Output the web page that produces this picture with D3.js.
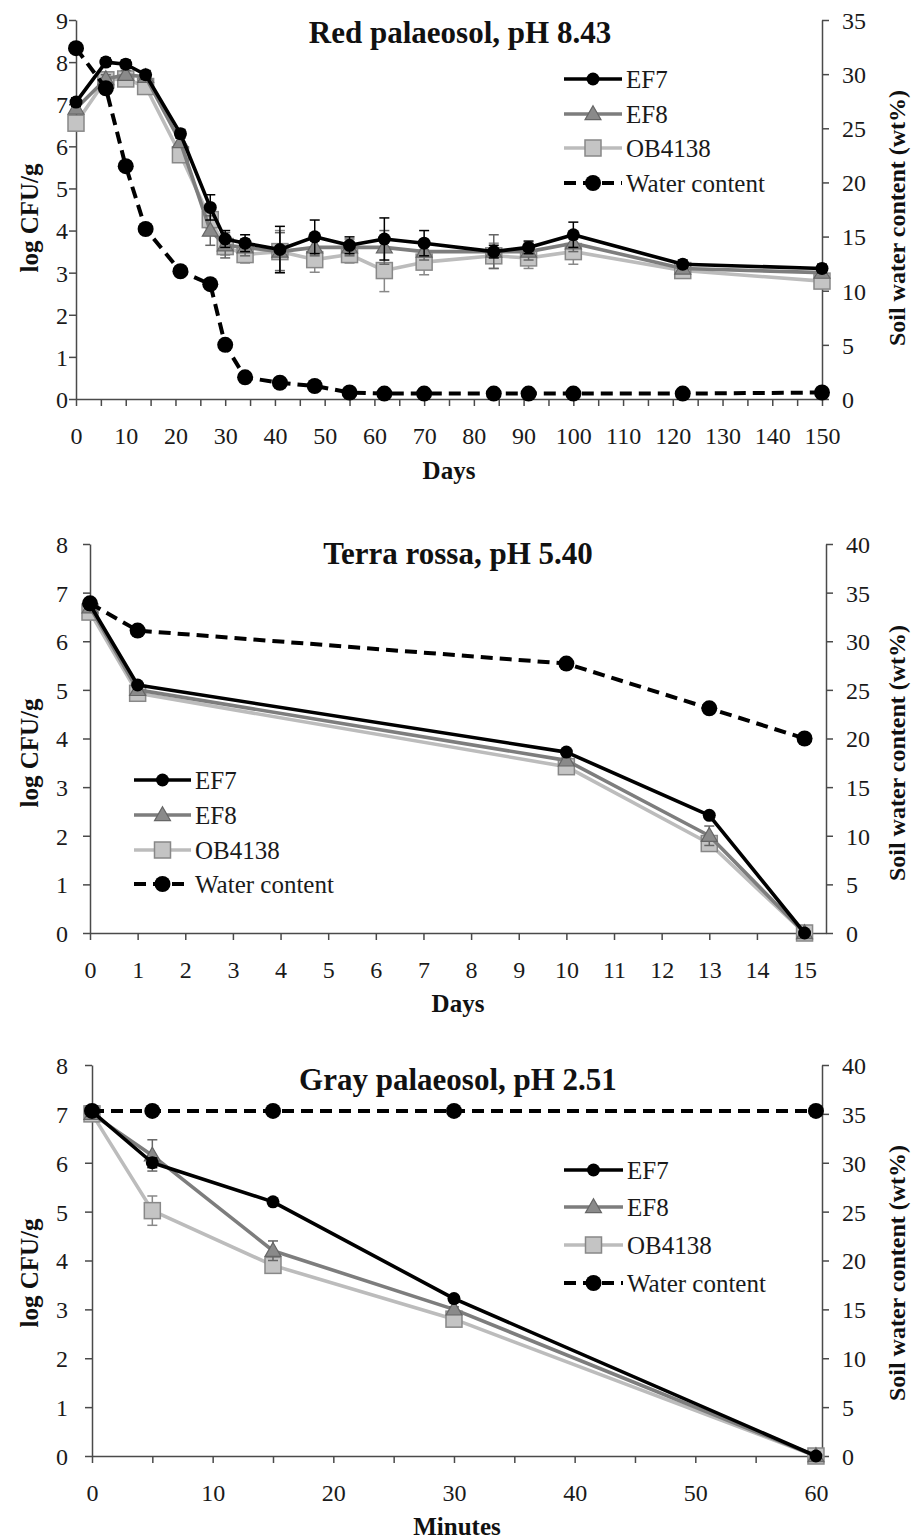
<!DOCTYPE html>
<html>
<head>
<meta charset="utf-8">
<script src="https://cdn.jsdelivr.net/npm/d3@7"></script>
<style>
  body { margin: 0; background: #fff; }
  svg text { font-family: "Liberation Serif", "Times New Roman", Times, "DejaVu Serif", serif; }
</style>
</head>
<body>
<svg id="chart" width="912" height="1540"></svg>
<script>
// ---- data: Red palaeosol, pH 8.43 (days) ----
const redDays = [0, 6, 10, 14, 21, 27, 30, 34, 41, 48, 55, 62, 70, 84, 91, 100, 122, 150];
const redEF7 = [7.05, 8.0, 7.95, 7.7, 6.3, 4.55, 3.8, 3.7, 3.55, 3.85, 3.65, 3.8, 3.7, 3.5, 3.6, 3.9, 3.2, 3.1];
const redEF8 = [6.9, 7.6, 7.7, 7.65, 6.1, 4.0, 3.65, 3.6, 3.5, 3.6, 3.6, 3.6, 3.5, 3.5, 3.5, 3.7, 3.1, 3.0];
const redOB4138 = [6.55, 7.58, 7.6, 7.42, 5.8, 4.26, 3.62, 3.43, 3.5, 3.31, 3.43, 3.05, 3.25, 3.4, 3.35, 3.5, 3.05, 2.8];
const redEF7Err = [0.1, 0.1, 0.1, 0.1, 0.1, 0.3, 0.2, 0.2, 0.55, 0.4, 0.2, 0.5, 0.3, 0.15, 0.15, 0.3, 0.1, 0.1];
const redEF8Err = [0.1, 0.1, 0.1, 0.1, 0.1, 0.35, 0.3, 0.2, 0.45, 0.2, 0.2, 0.4, 0.2, 0.4, 0.2, 0.2, 0.1, 0.1];
const redOBErr = [0.1, 0.1, 0.1, 0.1, 0.1, 0.2, 0.2, 0.2, 0.5, 0.3, 0.2, 0.5, 0.3, 0.3, 0.25, 0.3, 0.1, 0.1];
const redWater = [32.4, 28.7, 21.5, 15.7, 11.8, 10.6, 5.0, 2.0, 1.5, 1.2, 0.6, 0.5, 0.5, 0.5, 0.5, 0.5, 0.5, 0.6];

// ---- data: Terra rossa, pH 5.40 (days) ----
const terraDays = [0, 1, 10, 13, 15];
const terraEF7 = [6.75, 5.1, 3.72, 2.42, 0];
const terraEF8 = [6.7, 5.0, 3.55, 2.0, 0];
const terraOB4138 = [6.6, 4.93, 3.42, 1.84, 0];
const terraEF7Err = [0.05, 0.05, 0.05, 0.05, 0];
const terraEF8Err = [0.05, 0.05, 0.05, 0.2, 0];
const terraOBErr = [0.05, 0.05, 0.05, 0.05, 0];
const terraWater = [33.9, 31.1, 27.7, 23.1, 20.0];

// ---- data: Gray palaeosol, pH 2.51 (minutes) ----
const grayMinutes = [0, 5, 15, 30, 60];
const grayEF7 = [7.05, 6.0, 5.2, 3.22, 0];
const grayEF8 = [7.0, 6.15, 4.2, 3.0, 0];
const grayOB4138 = [7.0, 5.02, 3.9, 2.8, 0];
const grayEF7Err = [0.05, 0.1, 0.05, 0.05, 0];
const grayEF8Err = [0.05, 0.32, 0.2, 0.05, 0];
const grayOBErr = [0.05, 0.3, 0.05, 0.05, 0];
const grayWater = [35.3, 35.3, 35.3, 35.3, 35.3];

const seriesNames = ['EF7', 'EF8', 'OB4138', 'Water content'];

const FONT = '"Liberation Serif", "Times New Roman", Times, serif';
const svg = d3.select('#chart');
svg.append('rect').attr('width', 912).attr('height', 1540).attr('fill', '#fff');

const STYLE = {
  EF7: { stroke: '#000', width: 3.6, fill: '#000', mStroke: '#000', shape: 'circle' },
  EF8: { stroke: '#7d7d7d', width: 3.6, fill: '#8a8a8a', mStroke: '#666', shape: 'triangle' },
  OB4138: { stroke: '#bcbcbc', width: 3.6, fill: '#c4c4c4', mStroke: '#888', shape: 'square' },
  water: { stroke: '#000', width: 4, fill: '#000', dash: '12,7' }
};

function marker(g, shape, x, y, st) {
  if (shape === 'circle') {
    g.append('circle').attr('cx', x).attr('cy', y).attr('r', 6.5).attr('fill', st.fill);
  } else if (shape === 'triangle') {
    g.append('path')
      .attr('d', d3.symbol().type(d3.symbolTriangle).size(110)())
      .attr('transform', `translate(${x},${y + 1})`)
      .attr('fill', st.fill).attr('stroke', st.mStroke).attr('stroke-width', 1.2);
  } else if (shape === 'square') {
    g.append('rect').attr('x', x - 8).attr('y', y - 8).attr('width', 16).attr('height', 16)
      .attr('fill', st.fill).attr('stroke', st.mStroke).attr('stroke-width', 1.5);
  } else if (shape === 'water') {
    g.append('circle').attr('cx', x).attr('cy', y).attr('r', 8).attr('fill', '#000');
  }
}

function drawPanel(p) {
  const g = svg.append('g');
  const x = d3.scaleLinear().domain([0, p.xMax]).range([p.left, p.right]);
  const y = d3.scaleLinear().domain([0, p.yMax]).range([p.bottom, p.top]);
  const y2 = d3.scaleLinear().domain([0, p.y2Max]).range([p.bottom, p.top]);

  // axes
  const axisColor = '#4a4a4a';
  const xAxis = g.append('g').attr('transform', `translate(0,${p.bottom})`)
    .call(d3.axisBottom(x).tickValues(p.xTicks).tickSize(7).tickSizeOuter(0)
      .tickFormat(d => (p.xLabels.includes(d) ? d : '')));
  const yAxis = g.append('g').attr('transform', `translate(${p.left},0)`)
    .call(d3.axisLeft(y).ticks(p.yMax).tickSize(7).tickSizeOuter(0));
  const y2Axis = g.append('g').attr('transform', `translate(${p.right},0)`)
    .call(d3.axisRight(y2).tickValues(d3.range(0, p.y2Max + 1, 5)).tickSize(7).tickSizeOuter(0));
  [xAxis, yAxis, y2Axis].forEach(a => {
    a.attr('font-family', null).attr('font-size', null);
    a.selectAll('path, line').attr('stroke', axisColor).attr('stroke-width', 1.5);
    a.selectAll('text').style('font-family', FONT).style('font-size', '24px').attr('fill', '#1a1a1a');
  });
  xAxis.selectAll('text').attr('y', 37).attr('dy', '0.35em');
  yAxis.selectAll('text').attr('x', 68 - p.left).attr('dy', '0.35em');
  y2Axis.selectAll('text').attr('x', 20).attr('dy', '0.35em').attr('text-anchor', 'start');

  // titles
  g.append('text').attr('x', p.titleX).attr('y', p.titleY).attr('dy', '0.35em')
    .attr('text-anchor', 'middle').attr('font-weight', 'bold').attr('font-size', 31).attr('fill', '#111')
    .text(p.title);
  g.append('text').attr('x', (p.left + p.right) / 2).attr('y', p.xTitleY).attr('dy', '0.35em')
    .attr('text-anchor', 'middle').attr('font-weight', 'bold').attr('font-size', 25).attr('fill', '#111')
    .text(p.xTitle);
  g.append('text').attr('transform', `translate(29,${p.yTitleY}) rotate(-90)`).attr('dy', '0.35em')
    .attr('text-anchor', 'middle').attr('font-weight', 'bold').attr('font-size', 25).attr('fill', '#111')
    .text('log CFU/g');
  g.append('text').attr('transform', `translate(897,${p.yTitleY}) rotate(-90)`).attr('dy', '0.35em')
    .attr('text-anchor', 'middle').attr('font-weight', 'bold').attr('font-size', 24).attr('fill', '#111')
    .text('Soil water content (wt%)');

  // series lines
  const line = d3.line().x(d => x(d[0])).y(d => d[1]);
  const series = [
    { key: 'OB4138', vals: p.ob, err: p.obErr },
    { key: 'EF8', vals: p.ef8, err: p.ef8Err },
    { key: 'EF7', vals: p.ef7, err: p.ef7Err }
  ];
  series.forEach(s => {
    const st = STYLE[s.key];
    const pts = p.t.map((t, i) => [t, y(s.vals[i])]);
    g.append('path').datum(pts).attr('d', line).attr('fill', 'none')
      .attr('stroke', st.stroke).attr('stroke-width', st.width).attr('stroke-linejoin', 'round');
    const eb = g.append('g').attr('stroke', st.mStroke).attr('stroke-width', 1.5);
    p.t.forEach((t, i) => {
      const e = s.err[i];
      if (!e) return;
      const cx = x(t);
      eb.append('line').attr('x1', cx).attr('x2', cx).attr('y1', y(s.vals[i] - e)).attr('y2', y(s.vals[i] + e));
      [s.vals[i] - e, s.vals[i] + e].forEach(v =>
        eb.append('line').attr('x1', cx - 5).attr('x2', cx + 5).attr('y1', y(v)).attr('y2', y(v)));
    });
    p.t.forEach((t, i) => marker(g, st.shape, x(t), y(s.vals[i]), st));
  });

  // water content (right axis)
  const wpts = p.t.map((t, i) => [t, y2(p.water[i])]);
  g.append('path').datum(wpts).attr('d', line).attr('fill', 'none')
    .attr('stroke', '#000').attr('stroke-width', STYLE.water.width).attr('stroke-dasharray', STYLE.water.dash);
  p.t.forEach((t, i) => marker(g, 'water', x(t), y2(p.water[i]), STYLE.water));

  // legend
  const lg = g.append('g');
  seriesNames.forEach((name, i) => {
    const ly = p.legend.y[i];
    const x0 = p.legend.x0, x1 = p.legend.x1, xm = (x0 + x1) / 2;
    if (name === 'Water content') {
      lg.append('line').attr('x1', x0).attr('x2', x1).attr('y1', ly).attr('y2', ly)
        .attr('stroke', '#000').attr('stroke-width', 4).attr('stroke-dasharray', '12,7');
      marker(lg, 'water', xm, ly, STYLE.water);
    } else {
      const st = STYLE[name];
      lg.append('line').attr('x1', x0).attr('x2', x1).attr('y1', ly).attr('y2', ly)
        .attr('stroke', st.stroke).attr('stroke-width', st.width);
      marker(lg, st.shape, xm, ly, st);
    }
    lg.append('text').attr('x', x1 + 4).attr('y', ly).attr('dy', '0.35em')
      .style('font-family', FONT).style('font-size', '25px').attr('fill', '#1a1a1a').text(name);
  });
}

drawPanel({
  left: 76, right: 822, top: 20, bottom: 399,
  xMax: 150, xTicks: d3.range(0, 151, 5), xLabels: d3.range(0, 151, 10),
  yMax: 9, y2Max: 35,
  title: 'Red palaeosol, pH 8.43', titleX: 460, titleY: 32,
  xTitle: 'Days', xTitleY: 470, yTitleY: 218,
  t: redDays, ef7: redEF7, ef8: redEF8, ob: redOB4138,
  ef7Err: redEF7Err, ef8Err: redEF8Err, obErr: redOBErr, water: redWater,
  legend: { x0: 564, x1: 622, y: [79, 114, 148, 183] }
});

drawPanel({
  left: 90, right: 826, top: 544, bottom: 933,
  xMax: 15.45, xTicks: d3.range(0, 16, 1), xLabels: d3.range(0, 16, 1),
  yMax: 8, y2Max: 40,
  title: 'Terra rossa, pH 5.40', titleX: 458, titleY: 553,
  xTitle: 'Days', xTitleY: 1003, yTitleY: 753,
  t: terraDays, ef7: terraEF7, ef8: terraEF8, ob: terraOB4138,
  ef7Err: terraEF7Err, ef8Err: terraEF8Err, obErr: terraOBErr, water: terraWater,
  legend: { x0: 134, x1: 191, y: [780, 815, 850, 884] }
});

drawPanel({
  left: 92, right: 822, top: 1065, bottom: 1456,
  xMax: 60.5, xTicks: d3.range(0, 61, 5), xLabels: d3.range(0, 61, 10),
  yMax: 8, y2Max: 40,
  title: 'Gray palaeosol, pH 2.51', titleX: 458, titleY: 1079,
  xTitle: 'Minutes', xTitleY: 1526, yTitleY: 1273,
  t: grayMinutes, ef7: grayEF7, ef8: grayEF8, ob: grayOB4138,
  ef7Err: grayEF7Err, ef8Err: grayEF8Err, obErr: grayOBErr, water: grayWater,
  legend: { x0: 564, x1: 623, y: [1170, 1207, 1245, 1283] }
});
</script>
</body>
</html>
